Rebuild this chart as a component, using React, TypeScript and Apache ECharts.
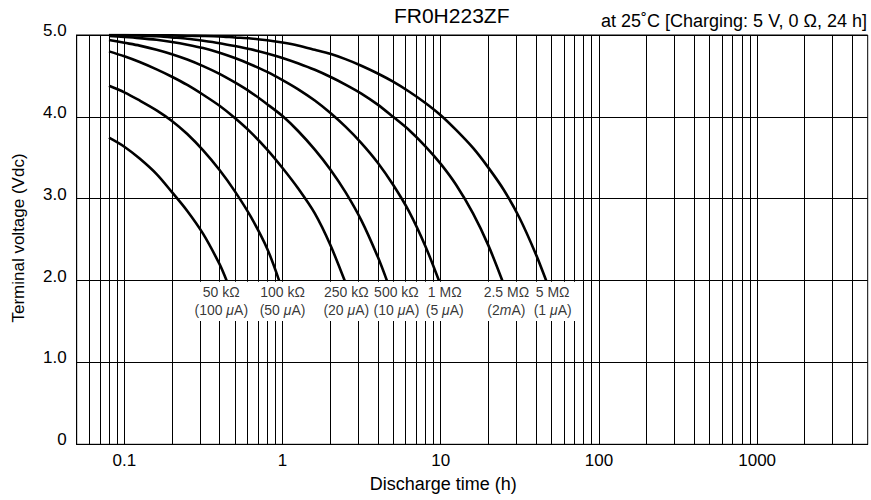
import React, { useEffect, useRef } from 'react';
import * as echarts from 'echarts';

const FONT = '"Liberation Sans", Arial, Helvetica, sans-serif';

// vertical grid lines (hours)
const gridTimes = [
  0.06, 0.07, 0.08, 0.09,
  0.1, 0.2, 0.3, 0.4, 0.5, 0.6, 0.7, 0.8, 0.9,
  1, 2, 3, 4, 5, 6, 7, 8, 9,
  10, 20, 30, 40, 50, 60, 70, 80, 90,
  100, 200, 300, 400, 500, 600, 700, 800, 900,
  1000, 2000, 3000, 4000,
];
const xTickLabels = ['0.1', '1', '10', '100', '1000'];
const yTickLabels = ['0', '1.0', '2.0', '3.0', '4.0', '5.0'];

// curve labels
const resistances = ['50 kΩ', '100 kΩ', '250 kΩ', '500 kΩ', '1 MΩ', '2.5 MΩ', '5 MΩ'];
const currentValues = ['100', '50', '20', '10', '5', '2', '1'];
const currentUnits = ['μ', 'μ', 'μ', 'μ', 'μ', 'm', 'μ'];
const labelTimes = [0.41, 1.0, 2.53, 5.25, 10.6, 26, 51];

// discharge curves [time (h), voltage (V)]
const c50k = [[0.08, 3.745], [0.1, 3.635], [0.125, 3.49], [0.16, 3.3], [0.2, 3.08], [0.25, 2.85], [0.315, 2.57], [0.4, 2.2], [0.443, 2.0]];
const c100k = [[0.08, 4.38], [0.1, 4.3], [0.125, 4.2], [0.16, 4.08], [0.2, 3.95], [0.25, 3.79], [0.315, 3.59], [0.4, 3.35], [0.5, 3.09], [0.63, 2.78], [0.8, 2.39], [0.952, 2.0]];
const c250k = [[0.08, 4.8], [0.1, 4.74], [0.125, 4.67], [0.16, 4.58], [0.2, 4.49], [0.25, 4.39], [0.315, 4.27], [0.4, 4.135], [0.5, 3.985], [0.63, 3.81], [0.8, 3.6], [1.0, 3.375], [1.25, 3.13], [1.6, 2.82], [2.0, 2.44], [2.47, 2.0]];
const c500k = [[0.08, 4.94], [0.1, 4.905], [0.125, 4.87], [0.16, 4.82], [0.2, 4.765], [0.25, 4.7], [0.315, 4.62], [0.4, 4.525], [0.5, 4.42], [0.63, 4.3], [0.8, 4.155], [1.0, 4.01], [1.25, 3.83], [1.6, 3.6], [2.0, 3.36], [2.5, 3.08], [3.15, 2.735], [4.0, 2.29], [4.57, 2.0]];
const c1M = [[0.08, 4.987], [0.1, 4.976], [0.125, 4.962], [0.16, 4.941], [0.2, 4.914], [0.25, 4.881], [0.315, 4.84], [0.4, 4.783], [0.5, 4.718], [0.63, 4.64], [0.8, 4.55], [1.0, 4.45], [1.25, 4.34], [1.6, 4.2], [2.0, 4.05], [2.5, 3.88], [3.15, 3.68], [4.0, 3.44], [5.0, 3.17], [6.3, 2.845], [8.0, 2.42], [9.74, 2.0]];
const c2_5M = [[0.08, 5.0], [0.1, 4.998], [0.125, 4.993], [0.16, 4.985], [0.2, 4.97], [0.25, 4.955], [0.315, 4.93], [0.4, 4.9], [0.5, 4.865], [0.63, 4.825], [0.8, 4.775], [1.0, 4.72], [1.25, 4.655], [1.6, 4.575], [2.0, 4.49], [2.5, 4.395], [3.15, 4.285], [4.0, 4.15], [5.0, 4.0], [6.3, 3.84], [8.0, 3.64], [10, 3.425], [12.5, 3.17], [16, 2.82], [20, 2.43], [24.5, 2.0]];
const c5M = [[0.08, 5.0], [0.1, 5.0], [0.125, 4.998], [0.16, 4.997], [0.2, 4.995], [0.25, 4.99], [0.315, 4.988], [0.4, 4.983], [0.5, 4.97], [0.63, 4.958], [0.8, 4.935], [1.0, 4.908], [1.25, 4.873], [1.6, 4.82], [2.0, 4.77], [2.5, 4.705], [3.15, 4.625], [4.0, 4.53], [5.0, 4.43], [6.3, 4.31], [8.0, 4.17], [10, 4.02], [12.5, 3.84], [16, 3.62], [20, 3.38], [25, 3.11], [31.5, 2.765], [40, 2.32], [46.4, 2.0]];

export default function App() {
  const ref = useRef<HTMLDivElement>(null);
  useEffect(() => {
    document.body.style.margin = '0';
    const chart = echarts.init(ref.current!, null, { renderer: 'svg' });
    const curves = [c50k, c100k, c250k, c500k, c1M, c2_5M, c5M];
    const option: any = {
      animation: false,
      backgroundColor: '#fff',
      textStyle: { fontFamily: FONT },
      grid: {
        left: 76.7, right: 3.3, top: 35, bottom: 55.7,
        show: true, borderColor: '#000', borderWidth: 1, backgroundColor: 'transparent',
        outerBoundsMode: 'none', containLabel: false,
      },
      xAxis: {
        type: 'log', logBase: 10, min: 0.05, max: 5000, splitNumber: 5,
        axisLine: { show: true, lineStyle: { color: '#000', width: 1 } },
        axisTick: { show: false },
        splitLine: { show: false },
        minorTick: { show: false },
        axisLabel: {
          show: true, color: '#000', fontSize: 17, fontFamily: FONT, margin: 8,
          showMinLabel: false, showMaxLabel: false,
          formatter: (v: number) => {
            const l = Math.log10(v);
            const k = Math.round(l);
            if (Math.abs(l - k) > 0.01) return '';
            return xTickLabels[k + 1] ?? '';
          },
        },
      },
      yAxis: {
        type: 'value', min: 0, max: 5, interval: 1,
        axisLine: { show: true, lineStyle: { color: '#000', width: 1 } },
        axisTick: { show: false },
        splitLine: { show: true, lineStyle: { color: '#000', width: 1 } },
        axisLabel: {
          color: '#000', fontSize: 17, fontFamily: FONT, margin: 10,
          verticalAlign: 'bottom', lineHeight: 9,
          formatter: (v: number) => yTickLabels[Math.round(v)] ?? '',
        },
      },
      graphic: [
        { type: 'text', x: 451.7, y: 15.3, style: { text: 'FR0H223ZF', fontSize: 21, fontFamily: FONT, fill: '#000', align: 'center', verticalAlign: 'middle' } },
        { type: 'text', x: 867, y: 20.8, style: { text: 'at 25˚C [Charging: 5 V, 0 Ω, 24 h]', fontSize: 18, fontFamily: FONT, fill: '#000', align: 'right', verticalAlign: 'middle' } },
        { type: 'text', x: 443.3, y: 483.8, style: { text: 'Discharge time (h)', fontSize: 18, fontFamily: FONT, fill: '#000', align: 'center', verticalAlign: 'middle' } },
        { type: 'text', x: 18, y: 238, rotation: Math.PI / 2, style: { text: 'Terminal voltage (Vdc)', fontSize: 17, fontFamily: FONT, fill: '#000', align: 'center', verticalAlign: 'middle' } },
      ],
      series: [
        {
          type: 'line', data: [], z: 2, silent: true,
          markLine: {
            z: 2, silent: true, symbol: ['none', 'none'], label: { show: false },
            lineStyle: { type: 'solid', color: '#000', width: 1 },
            emphasis: { disabled: true },
            data: gridTimes.map((t) => ({ xAxis: t })),
          },
        },
        {
          type: 'line', data: [], z: 3, silent: true,
          markArea: {
            z: 3, silent: true, itemStyle: { color: '#fff', opacity: 1 }, label: { show: false },
            emphasis: { disabled: true },
            data: [[{ xAxis: 0.26, yAxis: 1.985 }, { xAxis: 73, yAxis: 1.505 }]],
          },
        },
        ...curves.map((c) => ({
          type: 'line', data: c, z: 10, silent: true, symbol: 'none', showSymbol: false,
          smooth: 0.3, lineStyle: { color: '#000', width: 2.6 },
          emphasis: { disabled: true },
        })),
        {
          type: 'scatter', z: 11, silent: true, symbol: 'circle', symbolSize: 1,
          itemStyle: { color: 'rgba(0,0,0,0)' },
          data: labelTimes.map((t) => [t, 2]),
          label: {
            show: true, position: 'bottom', distance: 1.5,
            formatter: (p: any) => {
              const i = p.dataIndex;
              const u = currentUnits[i];
              return `{a|${resistances[i]}}\n{a|(${currentValues[i]}${u === 'μ' ? ' ' : ''}}{i|${u}}{a|A)}`;
            },
            rich: {
              a: { fontSize: 14, lineHeight: 18, color: '#000', fontFamily: FONT },
              i: { fontSize: 14, lineHeight: 18, color: '#000', fontFamily: FONT, fontStyle: 'italic' },
            },
          },
        },
      ],
    };
    chart.setOption(option);
    return () => chart.dispose();
  }, []);
  return <div ref={ref} style={{ width: 871, height: 500 }} />;
}
